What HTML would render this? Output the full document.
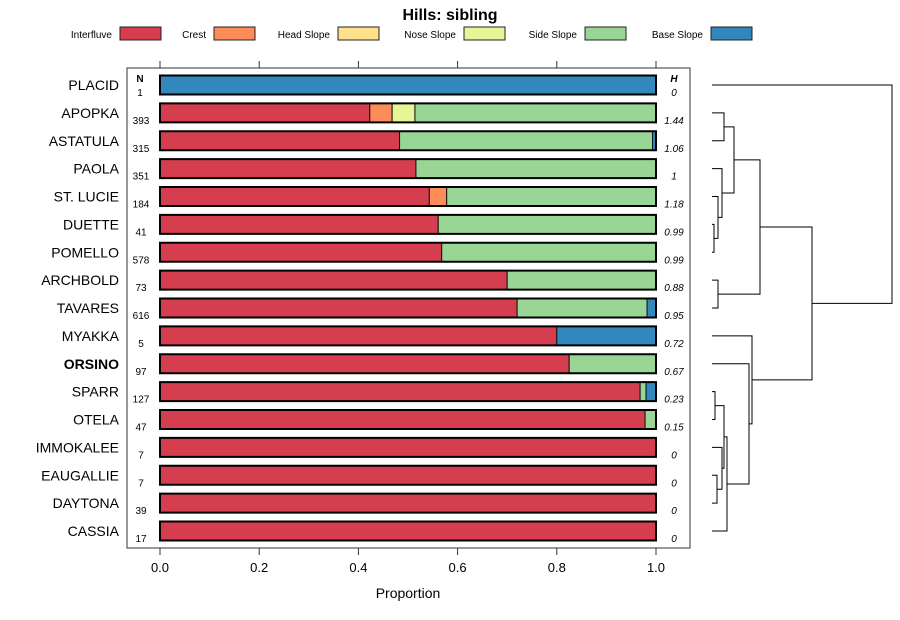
<!DOCTYPE html>
<html><head><meta charset="utf-8"><style>
body{margin:0;background:#fff;}
svg{display:block;font-family:"Liberation Sans",sans-serif;}
</style></head><body>
<svg id="chart" width="900" height="620">
<text x="450" y="20" text-anchor="middle" font-size="16" font-weight="bold">Hills: sibling</text>
<g id="legend"></g>
<rect x="127" y="68" width="563" height="480" fill="none" stroke="#333" stroke-width="1"/>
<text x="140" y="82" text-anchor="middle" font-size="10" font-weight="bold">N</text>
<text x="674" y="82" text-anchor="middle" font-size="10" font-weight="bold" font-style="italic">H</text>
<g id="bars"></g>
<g id="axis"></g>
<text x="408" y="598" text-anchor="middle" font-size="14">Proportion</text>
<g id="dendro" stroke="#000" fill="none" stroke-width="1"></g>
</svg>
<script>
const categories = ["PLACID","APOPKA","ASTATULA","PAOLA","ST. LUCIE","DUETTE","POMELLO","ARCHBOLD","TAVARES","MYAKKA","ORSINO","SPARR","OTELA","IMMOKALEE","EAUGALLIE","DAYTONA","CASSIA"];
const nValues = [1,393,315,351,184,41,578,73,616,5,97,127,47,7,7,39,17];
const hValues = ["0","1.44","1.06","1","1.18","0.99","0.99","0.88","0.95","0.72","0.67","0.23","0.15","0","0","0","0"];
const seriesNames = ["Interfluve","Crest","Head Slope","Nose Slope","Side Slope","Base Slope"];
const seriesColors = ["#d53e4f","#fc8d59","#fee08b","#e6f598","#99d594","#3288bd"];
const interfluve = [0,0.423,0.483,0.516,0.543,0.561,0.568,0.70,0.72,0.80,0.825,0.968,0.978,1,1,1,1];
const crest      = [0,0.045,0,0,0.035,0,0,0,0,0,0,0,0,0,0,0,0];
const headSlope  = [0,0,0,0,0,0,0,0,0,0,0,0,0,0,0,0,0];
const noseSlope  = [0,0.046,0,0,0,0,0,0,0,0,0,0,0,0,0,0,0];
const sideSlope  = [0,0.486,0.510,0.484,0.422,0.439,0.432,0.30,0.262,0,0.175,0.012,0.022,0,0,0,0];
const baseSlope  = [1,0,0.007,0,0,0,0,0,0.018,0.20,0,0.020,0,0,0,0,0];
const xTicks = [0,0.2,0.4,0.6,0.8,1.0];
const xTickLabels = ["0.0","0.2","0.4","0.6","0.8","1.0"];
const boldCategory = "ORSINO";
// dendrogram merges: [left, right, height]; leaves are 0..16, merges create ids 17+
const merges = [
 [5,6,2],[4,17,6],[3,18,10],[1,2,12],[20,19,22],[7,8,6],[21,22,48],
 [11,12,3],[14,15,5],[13,24,10],[23,25,12],[26,16,15],[10,27,37],[9,28,40],[29,23+0,0]
];
const NS="http://www.w3.org/2000/svg";
function mk(tag,attrs,parent,txt){const e=document.createElementNS(NS,tag);for(const k in attrs)e.setAttribute(k,attrs[k]);if(txt!==undefined)e.textContent=txt;parent.appendChild(e);return e;}
const x0=160,x1=656;
const xScale=v=>x0+(x1-x0)*v;
const yScale=i=>85+i*27.875;
const bars=document.getElementById('bars');
const series=[interfluve,crest,headSlope,noseSlope,sideSlope,baseSlope];
categories.forEach((c,i)=>{
  const y=yScale(i);
  const lab=mk('text',{x:119,y:y+5,'text-anchor':'end','font-size':14,'font-weight':c===boldCategory?'bold':'normal'},bars,c);
  
  
  const nt=mk('text',{x:i===0?140:141,y:y+11,'text-anchor':'middle','font-size':10},bars,String(nValues[i]));
  
  
  const ht=mk('text',{x:674,y:y+11,'text-anchor':'middle','font-size':10,'font-style':'italic'},bars,hValues[i]);
  
  
  let cum=0;
  series.forEach((s,k)=>{
    const v=s[i]; if(v<=0)return;
    const r=mk('rect',{x:xScale(cum),y:y-9.5,width:xScale(cum+v)-xScale(cum),height:19,fill:seriesColors[k],stroke:'#111','stroke-width':1},bars);
    
    
    cum+=v;
  });
  const o=mk('rect',{x:xScale(0),y:y-9.5,width:xScale(1)-xScale(0),height:19,fill:'none',stroke:'#000','stroke-width':2},bars);
  
  
});
const axis=document.getElementById('axis');
xTicks.forEach((t,i)=>{
  const x=xScale(t);
  mk('line',{x1:x,x2:x,y1:548,y2:555,stroke:'#333'},axis);
  mk('line',{x1:x,x2:x,y1:61,y2:68,stroke:'#333'},axis);
  const tl=mk('text',{x:x,y:572,'text-anchor':'middle','font-size':13},axis,xTickLabels[i]);
  
  
});
// legend
const lg=document.getElementById('legend');
const legX=[112,206,330,456,577,703];
seriesNames.forEach((n,k)=>{
  const t=mk('text',{x:legX[k],y:38,'text-anchor':'end','font-size':10},lg,n);
  
  
  const r=mk('rect',{x:legX[k]+8,y:27,width:41,height:13,fill:seriesColors[k],stroke:'#222'},lg);
  
  
});
// dendrogram (explicit tree from image)
const dg=document.getElementById('dendro');
const leafX=712;
function link(a,b,x){ // a,b: {x,y}
  mk('path',{d:`M${a.x},${a.y}H${x}V${b.y}H${b.x}`},dg);
  return {x:x,y:(a.y+b.y)/2};
}
const L=i=>({x:leafX,y:yScale(i)});
const n56=link(L(5),L(6),714);
const n456=link(L(4),n56,718);
const n3=link(L(3),n456,722);
const n12=link(L(1),L(2),724);
const nA=link(n12,n3,734);
const n78=link(L(7),L(8),718);
const nUp=link(nA,n78,760);
const n1112=link(L(11),L(12),715);
const n1415=link(L(14),L(15),717);
const n13=link(L(13),n1415,722);
const nB=link(n1112,n13,724);
const n16=link(nB,L(16),727);
const n10=link(L(10),n16,749);
const n9=link(L(9),n10,752);
const nLow=link(nUp,n9,812);
link(L(0),nLow,892);
</script>
</body></html>
